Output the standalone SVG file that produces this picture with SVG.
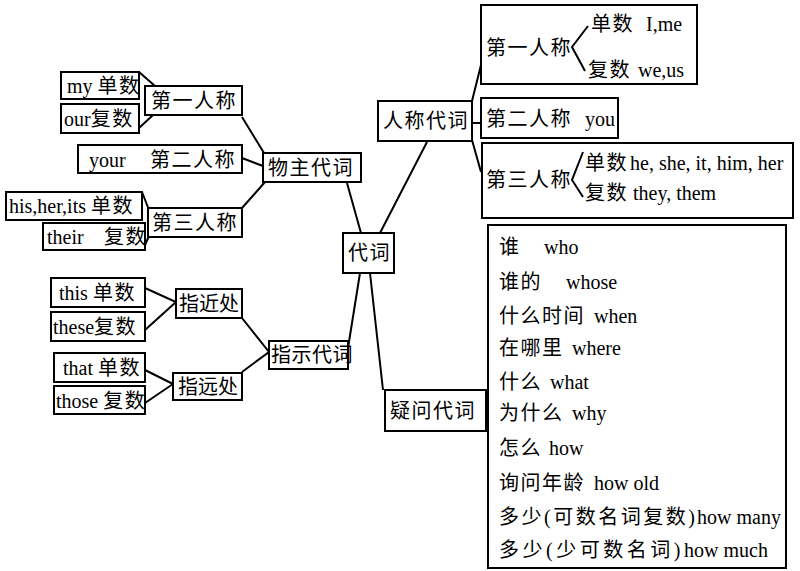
<svg xmlns="http://www.w3.org/2000/svg" width="800" height="571" viewBox="0 0 800 571">
<style>
.b{fill:#fff;stroke:#000;stroke-width:2}
.l{stroke:#000;stroke-width:2;fill:none}
text{font-family:"Liberation Serif","Noto Sans CJK SC",serif;font-size:20px;fill:#000}
.c{letter-spacing:1.5px}
.n{letter-spacing:0px}
</style>
<rect width="800" height="571" fill="#fff"/>
<g id="connectors">
<path class="l" d="M139,72 L155,86 M139,128 L153,115"/>
<path class="l" d="M242,117 L264,153 M242,158 L263,166 M242,208 L265,182"/>
<path class="l" d="M142,192 L149,210 M145,245 L149,236"/>
<path class="l" d="M347,183 L361,233 M427,142 L380,233"/>
<path class="l" d="M472,101 L481,65 M472,123 L481,123 M472,140 L481,172"/>
<path class="l" d="M360,273 L348,348 M370,273 L383,390"/>
<path class="l" d="M145,288 L176,302 L145,330 M145,370 L173,384 L145,403"/>
<path class="l" d="M242,318 L269,352 L242,372"/>
</g>
<g id="my"><rect class="b" x="61" y="72" width="78" height="27"/><text x="67" y="93">my <tspan class="c">单数</tspan></text></g>
<g id="our"><rect class="b" x="61" y="104" width="78" height="29"/><text x="64" y="126">our<tspan class="c">复数</tspan></text></g>
<g id="p1l"><rect class="b" x="145" y="86" width="97" height="29"/><text class="c" x="151" y="108">第一人称</text></g>
<g id="your"><rect class="b" x="78" y="145" width="164" height="28"/><text x="89" y="167">your<tspan class="c" x="150">第二人称</tspan></text></g>
<g id="possessive"><rect class="b" x="263" y="153" width="98" height="29"/><text class="c" x="268" y="175">物主代词</text></g>
<g id="his"><rect class="b" x="6" y="192" width="136" height="28"/><text x="9" y="213">his,her,its <tspan class="c">单数</tspan></text></g>
<g id="p3l"><rect class="b" x="148" y="208" width="94" height="29"/><text class="c" x="152" y="230">第三人称</text></g>
<g id="their"><rect class="b" x="43" y="223" width="102" height="27"/><text x="47" y="244">their<tspan class="c" x="104">复数</tspan></text></g>
<g id="this"><rect class="b" x="51" y="278" width="94" height="29"/><text x="59" y="300">this <tspan class="c">单数</tspan></text></g>
<g id="these"><rect class="b" x="51" y="312" width="94" height="29"/><text x="53" y="334">these<tspan class="c">复数</tspan></text></g>
<g id="near"><rect class="b" x="176" y="289" width="66" height="29"/><text class="n" x="179" y="311">指近处</text></g>
<g id="that"><rect class="b" x="54" y="353" width="91" height="29"/><text x="63" y="375">that <tspan class="c">单数</tspan></text></g>
<g id="those"><rect class="b" x="54" y="386" width="91" height="28"/><text x="56" y="408">those <tspan class="c">复数</tspan></text></g>
<g id="far"><rect class="b" x="173" y="373" width="69" height="27"/><text class="n" x="178" y="394">指远处</text></g>
<g id="demonstrative"><rect class="b" x="269" y="341" width="79" height="28"/><text class="n" x="271" y="362" style="letter-spacing:0.5px">指示代词</text></g>
<g id="pronoun"><rect class="b" x="343" y="233" width="51" height="40"/><text class="c" x="348" y="260">代词</text></g>
<g id="personal"><rect class="b" x="378" y="101" width="94" height="40"/><text class="c" x="383" y="128">人称代词</text></g>
<g id="p1r"><rect class="b" x="481" y="5" width="216" height="79"/><path class="l" d="M588,26 L572,47 L585,71"/><text class="c" x="486" y="55">第一人称</text><text x="591" y="31"><tspan class="c">单数</tspan><tspan x="646">I,me</tspan></text><text x="588" y="77"><tspan class="c">复数</tspan><tspan x="638">we,us</tspan></text></g>
<g id="p2r"><rect class="b" x="481" y="98" width="137" height="40"/><text x="486" y="126"><tspan class="c">第二人称</tspan><tspan x="585">you</tspan></text></g>
<g id="p3r"><rect class="b" x="482" y="143" width="311" height="75"/><path class="l" d="M583,152 L572,180 L583,197"/><text class="c" x="486" y="187">第三人称</text><text x="585" y="170"><tspan class="c">单数</tspan><tspan x="630">he, she, it, him, her</tspan></text><text x="585" y="200"><tspan class="c">复数</tspan><tspan x="633">they, them</tspan></text></g>
<g id="interrogative"><rect class="b" x="385" y="390" width="101" height="41"/><text class="c" x="390" y="418">疑问代词</text></g>
<g id="list"><rect class="b" x="488" y="225" width="298" height="343"/>
<text x="499" y="254"><tspan class="c">谁</tspan><tspan x="544">who</tspan></text>
<text x="499" y="289"><tspan class="c">谁的</tspan><tspan x="566">whose</tspan></text>
<text x="499" y="323"><tspan class="c">什么时间</tspan><tspan x="594">when</tspan></text>
<text x="499" y="355"><tspan class="c">在哪里</tspan><tspan x="572">where</tspan></text>
<text x="499" y="389"><tspan class="c">什么</tspan><tspan x="550">what</tspan></text>
<text x="499" y="420"><tspan class="c">为什么</tspan><tspan x="572">why</tspan></text>
<text x="499" y="455"><tspan class="c">怎么</tspan><tspan x="549">how</tspan></text>
<text x="499" y="490"><tspan class="c">询问年龄</tspan><tspan x="594">how old</tspan></text>
<text x="499" y="524"><tspan style="letter-spacing:2.5px">多少(可数名词复数)</tspan><tspan x="697">how many</tspan></text>
<text x="499" y="557"><tspan style="letter-spacing:3.5px">多少(少可数名词)</tspan><tspan x="684">how much</tspan></text>
</g>
</svg>
